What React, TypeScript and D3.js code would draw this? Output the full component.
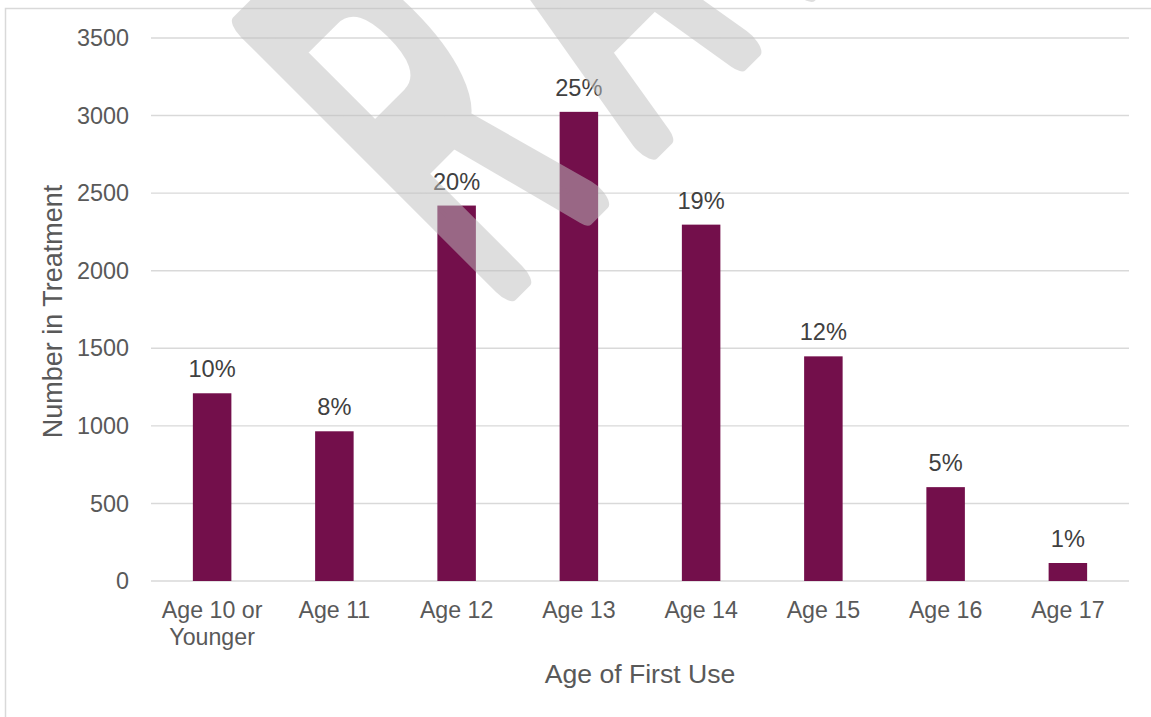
import React from 'react';
import * as d3 from 'd3';

// chart data
const categories = ['Age 10 or Younger', 'Age 11', 'Age 12', 'Age 13', 'Age 14', 'Age 15', 'Age 16', 'Age 17'];
const categoryLines = [['Age 10 or', 'Younger'], ['Age 11'], ['Age 12'], ['Age 13'], ['Age 14'], ['Age 15'], ['Age 16'], ['Age 17']];
const counts = [1210, 965, 2420, 3024, 2297, 1448, 605, 116];
const percentLabels = ['10%', '8%', '20%', '25%', '19%', '12%', '5%', '1%'];
const yTicks = [0, 500, 1000, 1500, 2000, 2500, 3000, 3500];

const W = 1151;
const H = 717;
const FONT = '"Liberation Sans", Arial, sans-serif';
const BAR = '#730F4B';

export default function App() {
    const x = d3.scaleBand<string>()
        .domain(categories)
        .range([151, 1129])
        .paddingInner(0.685)
        .paddingOuter(0.3425);

    const y = d3.scaleLinear()
        .domain([0, 3500])
        .range([581, 38]);

    return (
        <svg width={W} height={H} style={{ position: 'absolute', left: 0, top: 0, display: 'block', background: '#fff' }}
            fontFamily={FONT}>
            {/* chart border (runs past the right and bottom edges) */}
            <rect x={5.5} y={8.5} width={1300} height={900} fill="none" stroke="#d9d9d9" strokeWidth={1.5} />

            {/* gridlines */}
            {yTicks.map((t) => (
                <line key={t} x1={151} x2={1129} y1={y(t)} y2={y(t)} stroke="#d9d9d9" strokeWidth={1.4} />
            ))}

            {/* y tick labels */}
            {yTicks.map((t) => (
                <text key={'l' + t} x={129} y={y(t)} dy="0.35em" textAnchor="end" fontSize={23.4} fill="#595959">{t}</text>
            ))}

            {/* bars */}
            {categories.map((c, i) => (
                <rect key={c} x={x(c)} y={y(counts[i])} width={x.bandwidth()} height={y(0) - y(counts[i])} fill={BAR} />
            ))}

            {/* data labels */}
            {categories.map((c, i) => (
                <text key={'d' + c} x={(x(c) as number) + x.bandwidth() / 2} y={y(counts[i]) - 16}
                    textAnchor="middle" fontSize={23.6} fill="#404040">{percentLabels[i]}</text>
            ))}

            {/* category labels */}
            {categories.map((c, i) => (
                <text key={'c' + c} x={(x(c) as number) + x.bandwidth() / 2} y={618}
                    textAnchor="middle" fontSize={23.2} fill="#595959">
                    {categoryLines[i].map((ln, j) => (
                        <tspan key={j} x={(x(c) as number) + x.bandwidth() / 2} dy={j === 0 ? 0 : 27}>{ln}</tspan>
                    ))}
                </text>
            ))}

            {/* axis titles */}
            <text x={640} y={683} textAnchor="middle" fontSize={26.6} fill="#595959">Age of First Use</text>
            <text transform="translate(62,311.5) rotate(-90)" textAnchor="middle" fontSize={27} fill="#595959">Number in Treatment</text>

            {/* watermark */}
            <g opacity={0.5} pointerEvents="none">
                <text transform="translate(489,299) rotate(-45) scale(0.42,1)" fontSize={524} fill="#bfbfbf"
                    stroke="#bfbfbf" strokeWidth={30} strokeLinejoin="round" style={{ vectorEffect: 'non-scaling-stroke' } as any}
                    letterSpacing={140}>RAFT</text>
            </g>
        </svg>
    );
}
